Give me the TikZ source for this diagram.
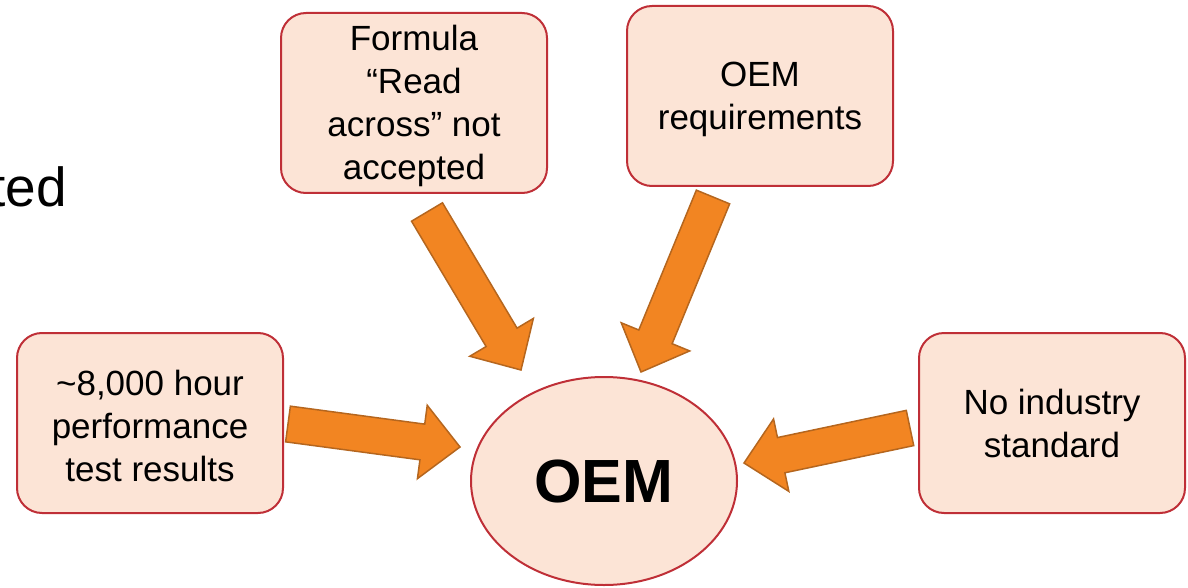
\documentclass[tikz,border=0pt]{standalone}
\usepackage{fontspec}
\setmainfont{Liberation Sans}
\usepackage{tikz}
\usetikzlibrary{calc}
\usetikzlibrary{shapes.geometric}
\usepackage{xcolor}

\definecolor{boxfill}{HTML}{FCE4D6}
\definecolor{boxline}{HTML}{BF2F37}
\definecolor{arrowfill}{HTML}{F28522}
\definecolor{arrowline}{HTML}{B5661E}

% block arrow from tail coordinate #1 to tip coordinate #2
\newcommand{\fatarrow}[2]{%
  \draw[push] ($(#1)!18pt!90:(#2)$)
    -- ($(#2)!38pt!(#1)!18pt!90:(#2)$)
    -- ($(#2)!38pt!(#1)!37pt!90:(#2)$)
    -- (#2)
    -- ($(#2)!38pt!(#1)!37pt!-90:(#2)$)
    -- ($(#2)!38pt!(#1)!18pt!-90:(#2)$)
    -- ($(#1)!18pt!-90:(#2)$) -- cycle;}
\newcommand{\topstrut}{\rule{0pt}{32pt}}

\begin{document}
\begin{tikzpicture}[x=1pt, y=-1pt,
  cause/.style={rectangle, rounded corners=25pt, draw=boxline, fill=boxfill, line width=2pt, minimum width=266pt, minimum height=180pt, inner sep=0pt, align=center, font=\fontsize{35}{43}\selectfont},
  owner/.style={ellipse, draw=boxline, fill=boxfill, line width=2pt, minimum width=266pt, minimum height=208pt, inner sep=0pt, font=\fontsize{61}{70}\selectfont\bfseries},
  push/.style={fill=arrowfill, draw=arrowline, line width=1.5pt, line join=miter}]

\useasboundingbox (0,0) rectangle (1188,588);

% Cut-off slide text
\node[anchor=base east, inner sep=0pt, font=\fontsize{55}{60}\selectfont] (partial) at (67,207) {ted};

% Causes
\node[cause] (formula) at (414,103) {\topstrut Formula\\``Read\\across'' not\\accepted};
\node[cause] (require) at (760,96) {\topstrut OEM\\requirements};
\node[cause] (testing) at (150,423) {\topstrut\textasciitilde8,000 hour\\performance\\test results};
\node[cause] (standard) at (1052,423) {No industry\\standard};

% Centre
\node[owner] (oem) at (604,481) {OEM};

% Arrow ends
\coordinate (readtail) at (427,212);
\coordinate (readtip) at (521,370);
\coordinate (reqtail) at (713,197);
\coordinate (reqtip) at (641,372);
\coordinate (testtail) at (288,424);
\coordinate (testtip) at (460,447);
\coordinate (stdtail) at (910,428);
\coordinate (stdtip) at (744,463);

% Block arrows
\fatarrow{readtail}{readtip}
\fatarrow{reqtail}{reqtip}
\fatarrow{testtail}{testtip}
\fatarrow{stdtail}{stdtip}

\end{tikzpicture}
\end{document}
